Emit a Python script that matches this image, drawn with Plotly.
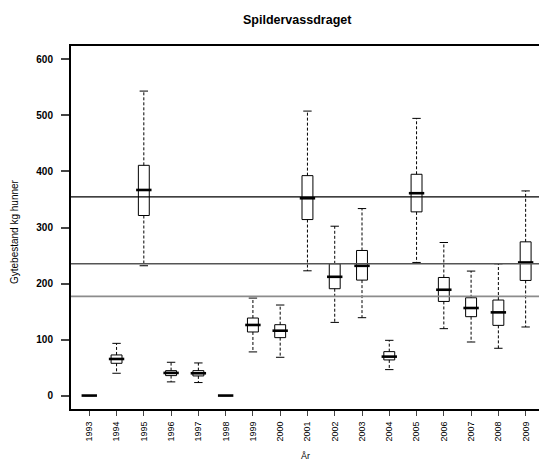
import plotly.graph_objects as go

years = list(range(1993, 2010))
q1 = [0, 57.6, 321.4, 35.6, 35.0, 0, 113.5, 103.4, 314.2, 190.7, 206.1, 63.6, 327.9, 168.0, 140.8, 125.3, 205.5]
median = [0, 65.3, 367.0, 40.4, 39.8, 0, 126.0, 115.8, 352.2, 212.0, 231.6, 69.5, 361.2, 188.9, 156.3, 148.5, 237.6]
q3 = [0, 72.5, 411.0, 44.5, 44.5, 0, 138.4, 126.5, 392.6, 235.2, 259.0, 78.4, 395.0, 210.8, 174.6, 170.5, 274.4]
lower = [0, 39.8, 231.7, 24.4, 23.2, 0, 77.9, 68.3, 222.7, 130.6, 139.0, 46.3, 237.6, 119.4, 95.6, 84.4, 122.4]
upper = [0, 93.2, 543.5, 59.4, 58.2, 0, 174.0, 161.6, 507.8, 302.3, 333.8, 98.6, 494.8, 273.2, 222.2, 235.2, 365.3]

ref_values = [354.6, 235.2, 177.0]
ref_colors = ["black", "#555555", "#8c8c8c"]
ref_widths = [1.1, 1.6, 1.6]

fig = go.Figure()

# dashed whiskers
wx, wy = [], []
for i, yr in enumerate(years):
    if upper[i] > q3[i]:
        wx += [yr, yr, None]
        wy += [q3[i], upper[i], None]
    if lower[i] < q1[i]:
        wx += [yr, yr, None]
        wy += [q1[i], lower[i], None]
fig.add_trace(go.Scatter(x=wx, y=wy, mode="lines", line=dict(color="black", width=1, dash="3px,2px"),
                         hoverinfo="skip", showlegend=False))

# caps
fig.add_trace(go.Scatter(x=years + years, y=upper + lower, mode="markers",
                         marker=dict(symbol="line-ew", size=6, line=dict(color="black", width=1)),
                         hoverinfo="skip", showlegend=False))

fig.add_trace(go.Box(x=years, q1=q1, median=median, q3=q3, lowerfence=q1, upperfence=q3,
                     width=0.4, whiskerwidth=0, fillcolor="white",
                     line=dict(color="black", width=1), showlegend=False))

# thick medians
fig.add_trace(go.Scatter(x=years, y=median, mode="markers",
                         marker=dict(symbol="line-ew", size=11, line=dict(color="black", width=2.6)),
                         hoverinfo="skip", showlegend=False))

for v, c, w in zip(ref_values, ref_colors, ref_widths):
    fig.add_shape(type="line", xref="paper", x0=0, x1=1, y0=v, y1=v,
                  line=dict(color=c, width=w), layer="above")

fig.update_layout(
    width=539, height=462,
    margin=dict(l=71, r=0, t=46, b=53),
    plot_bgcolor="white", paper_bgcolor="white",
    font=dict(family="Liberation Sans, Arial, sans-serif", color="black"),
    showlegend=False,
)
fig.update_xaxes(range=[1992.33, 2009.49], tickvals=years, ticktext=[str(y) for y in years],
                 tickangle=-90, tickfont=dict(size=9), ticks="outside", ticklen=5, tickwidth=1,
                 ticklabelstandoff=2,
                 showline=True, linecolor="black", linewidth=2, mirror=True,
                 showgrid=False, zeroline=False)
fig.update_yaxes(range=[-24, 624], tickvals=[0, 100, 200, 300, 400, 500, 600],
                 tickfont=dict(size=10, weight="bold"), ticks="outside", ticklen=8, tickwidth=1.5,
                 ticklabelstandoff=6,
                 showline=True, linecolor="black", linewidth=2, mirror=False,
                 showgrid=False, zeroline=False)

fig.add_annotation(text="<b>Spildervassdraget</b>", xref="paper", yref="paper", x=0.483, y=1.072,
                   showarrow=False, font=dict(size=12.5), xanchor="center", yanchor="middle")
fig.add_annotation(text="Gytebestand kg hunner", xref="paper", yref="paper", x=-0.122, y=0.49,
                   textangle=-90, showarrow=False, font=dict(size=10, color="black"),
                   xanchor="center", yanchor="middle")
fig.add_annotation(text="År", xref="paper", yref="paper", x=0.502, y=-0.129,
                   showarrow=False, font=dict(size=9), xanchor="center", yanchor="middle")

fig.write_html("out.html", post_script="document.body.style.margin='0';",
               config={"displayModeBar": False})
